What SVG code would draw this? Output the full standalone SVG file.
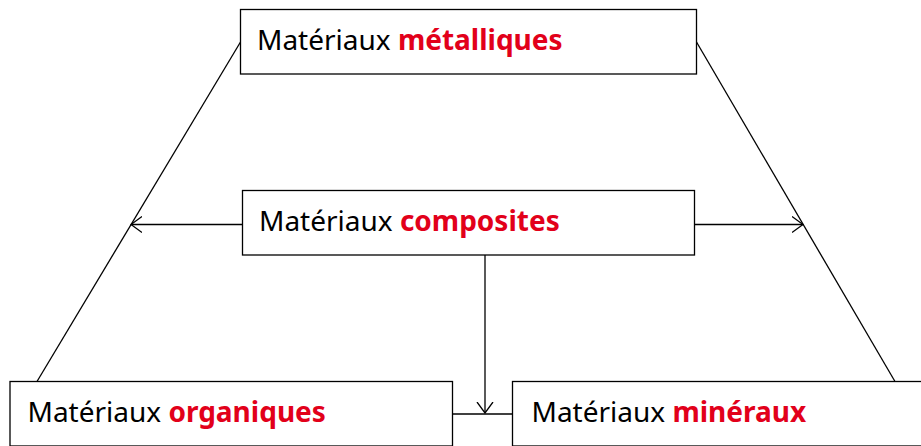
<svg xmlns="http://www.w3.org/2000/svg" width="921" height="446" viewBox="0 0 921 446">
<defs>
<style>
.box{fill:#fff;stroke:#000;stroke-width:1.3}
.lbl{font-family:"Noto Sans","Liberation Sans",sans-serif;font-size:28px;fill:#000}
.red{fill:#e2001a;font-weight:bold}
.con{fill:none;stroke:#000;stroke-width:1.3}
</style>
<marker id="arr" viewBox="0 0 12 18" refX="11" refY="9" markerWidth="12" markerHeight="18" markerUnits="userSpaceOnUse" orient="auto">
<path d="M0,1 L11,9 L0,17" fill="none" stroke="#000" stroke-width="1.3"/>
</marker>
</defs>
<rect width="921" height="446" fill="#fff"/>
<g id="connectors">
<line class="con" x1="240.5" y1="42" x2="37" y2="381.5"/>
<line class="con" x1="696.5" y1="42" x2="895" y2="381.5"/>
<line class="con" x1="242.5" y1="224.5" x2="131" y2="224.5" marker-end="url(#arr)"/>
<line class="con" x1="694.5" y1="224.5" x2="803" y2="224.5" marker-end="url(#arr)"/>
<line class="con" x1="485" y1="255" x2="485" y2="413" marker-end="url(#arr)"/>
<line class="con" x1="452.5" y1="414" x2="512.5" y2="414"/>
</g>
<g id="metalliques">
<rect class="box" x="240.5" y="9.5" width="456" height="64.5"/>
<text class="lbl" x="257" y="50">Matériaux <tspan class="red">métalliques</tspan></text>
</g>
<g id="composites">
<rect class="box" x="242.5" y="190.5" width="452" height="64.5"/>
<text class="lbl" x="259" y="231">Matériaux <tspan class="red">composites</tspan></text>
</g>
<g id="organiques">
<rect class="box" x="10" y="381.5" width="442.5" height="64.5"/>
<text class="lbl" x="27.5" y="421.5">Matériaux <tspan class="red">organiques</tspan></text>
</g>
<g id="mineraux">
<rect class="box" x="512.5" y="381.5" width="420" height="64.5"/>
<text class="lbl" x="531.5" y="421.5">Matériaux <tspan class="red">minéraux</tspan></text>
</g>
</svg>
